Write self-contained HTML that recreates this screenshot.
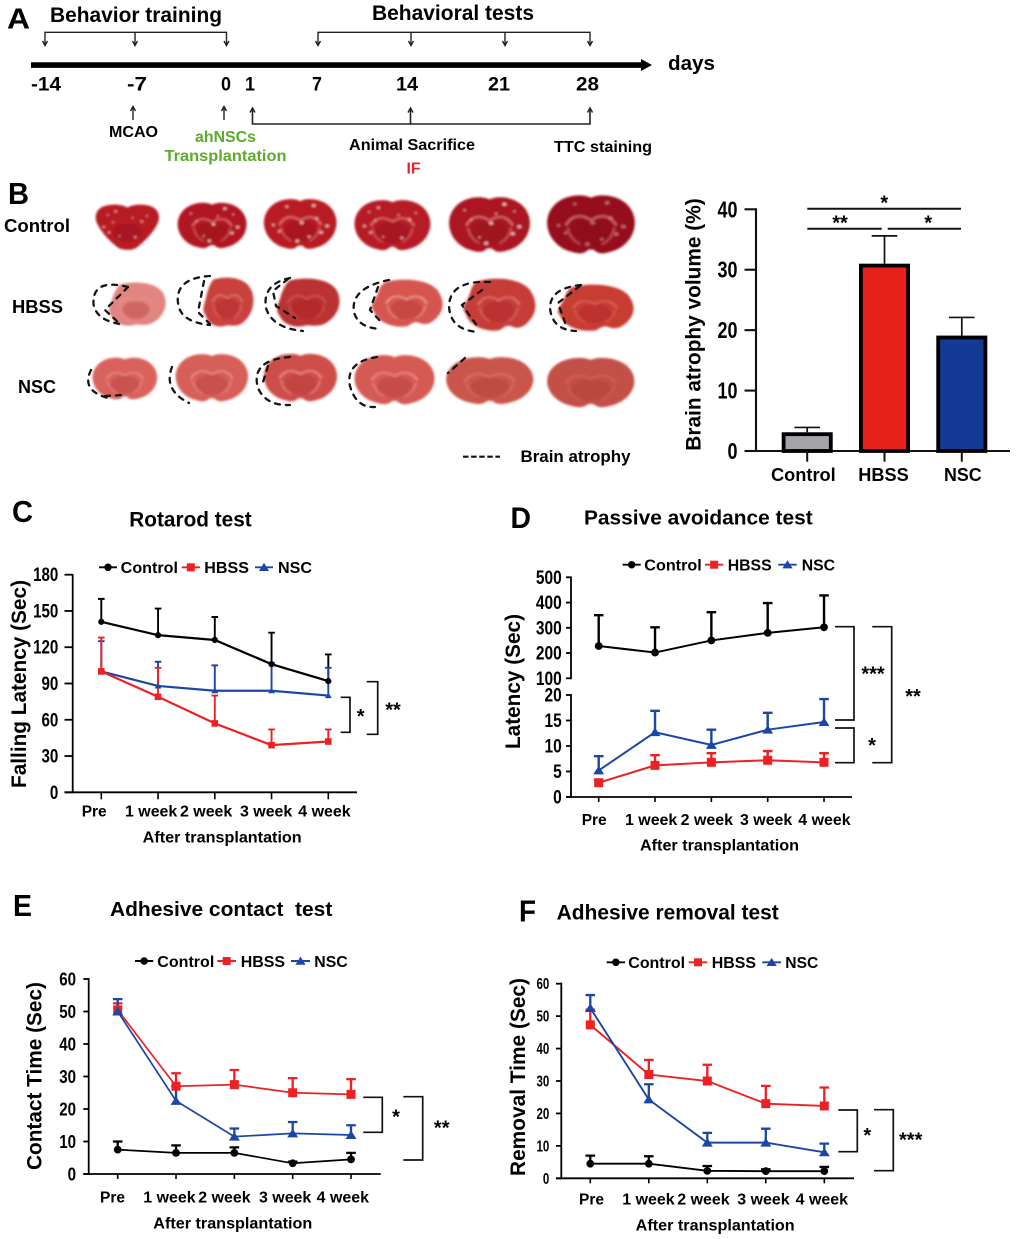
<!DOCTYPE html>
<html lang="en">
<head>
<meta charset="utf-8">
<title>Behavior and brain atrophy figure</title>
<style>
html,body{margin:0;padding:0;background:#fff;}
svg{display:block;font-family:"Liberation Sans",Arial,sans-serif;font-weight:bold;filter:blur(0.3px);}
</style>
</head>
<body>
<svg id="figure" xmlns="http://www.w3.org/2000/svg" width="1020" height="1239" viewBox="0 0 1020 1239">
<defs>
<filter id="soft" x="-10%" y="-10%" width="120%" height="120%"><feGaussianBlur stdDeviation="1"/></filter>
</defs>
<rect width="1020" height="1239" fill="#fff"/>

<g id="panel-a">
<text x="7" y="28.3" font-size="29" textLength="23" lengthAdjust="spacingAndGlyphs">A</text>
<text x="50" y="22" font-size="21" textLength="172" lengthAdjust="spacingAndGlyphs">Behavior training</text>
<text x="372" y="20" font-size="21" textLength="162" lengthAdjust="spacingAndGlyphs">Behavioral tests</text>
<g fill="none" stroke="#222" stroke-width="1.4">
<path d="M45 45V32.3H226.5V45M135 32.3V45"/>
<path d="M318 45V32.3H590V45M411 32.3V45M505 32.3V45"/>
<path d="M42.5 41L45 45.5L47.5 41M132.5 41L135 45.5L137.5 41M224 41L226.5 45.5L229 41"/>
<path d="M315.5 41L318 45.5L320.5 41M408.5 41L411 45.5L413.5 41M502.5 41L505 45.5L507.5 41M587.5 41L590 45.5L592.5 41"/>
<path d="M133 120V107M130.5 111L133 106.5L135.5 111"/>
<path d="M224 120V107M221.5 111L224 106.5L226.5 111"/>
<path stroke-width="1.6" d="M252.5 109V124H590V109M410.5 124V109"/>
<path d="M250 112.5L252.5 108L255 112.5M408 112.5L410.5 108L413 112.5M587.5 112.5L590 108L592.5 112.5"/>
</g>
<path d="M31 62.3H641V59L652 65L641 71V67.9H31Z" fill="#000"/>
<text x="668" y="70" font-size="20.6" textLength="47" lengthAdjust="spacingAndGlyphs">days</text>
<g font-size="19">
<text x="31" y="90.5" textLength="30" lengthAdjust="spacingAndGlyphs">-14</text>
<text x="127" y="90.5" textLength="20" lengthAdjust="spacingAndGlyphs">-7</text>
<text x="221" y="90.5" textLength="10" lengthAdjust="spacingAndGlyphs">0</text>
<text x="245" y="90.5" textLength="10" lengthAdjust="spacingAndGlyphs">1</text>
<text x="312" y="90.5" textLength="10" lengthAdjust="spacingAndGlyphs">7</text>
<text x="396" y="90.5" textLength="22" lengthAdjust="spacingAndGlyphs">14</text>
<text x="488" y="90.5" textLength="22" lengthAdjust="spacingAndGlyphs">21</text>
<text x="576" y="90.5" textLength="23" lengthAdjust="spacingAndGlyphs">28</text>
</g>
<g font-size="16">
<text x="109" y="137" textLength="49" lengthAdjust="spacingAndGlyphs">MCAO</text>
<text x="195" y="142" fill="#5cab2a" textLength="61" lengthAdjust="spacingAndGlyphs">ahNSCs</text>
<text x="164.5" y="161" fill="#5cab2a" textLength="122" lengthAdjust="spacingAndGlyphs">Transplantation</text>
<text x="349" y="150" textLength="126" lengthAdjust="spacingAndGlyphs">Animal Sacrifice</text>
<text x="406.5" y="173.5" fill="#e8202a" textLength="14" lengthAdjust="spacingAndGlyphs">IF</text>
<text x="554" y="152" textLength="98" lengthAdjust="spacingAndGlyphs">TTC staining</text>
</g>
</g>

<g id="panel-b">
<text x="8" y="204" font-size="31" textLength="21" lengthAdjust="spacingAndGlyphs">B</text>
<text x="4" y="232" font-size="18.5" textLength="66" lengthAdjust="spacingAndGlyphs">Control</text>
<text x="12" y="313" font-size="18.5" textLength="51" lengthAdjust="spacingAndGlyphs">HBSS</text>
<text x="18" y="393" font-size="18.5" textLength="38" lengthAdjust="spacingAndGlyphs">NSC</text>
<g id="brains"></g>
<g fill="none" stroke="#151515" stroke-width="2.3" stroke-linecap="round" stroke-dasharray="5 6">
<path d="M128 287Q92 278 93.500 304Q96 320 120 324M128 287L105 310L120 324"/>
<path d="M210 276Q175 278 178 303Q180 322 210 325M204 281L198 312L210 324"/>
<path d="M290 278Q262 284 266 308Q272 328 303 331M288 279L273 291L276 306L295 318"/>
<path d="M389 280Q350 288 354 312Q358 328 381 329M378 287L370 310L382 323"/>
<path d="M490 282Q450 280 449 306Q450 330 478 332M482 290L462 305L478 327"/>
<path d="M581 285Q550 288 550 308Q552 330 576 331M580 286L558 303L566 325"/>
<path d="M91 370Q80 392 112 399M105 396L122 395"/>
<path d="M172 367Q163 390 189 403"/>
<path d="M290 357Q250 360 258 388Q266 406 290 405M268 366L263 382"/>
<path d="M377 357Q345 362 350 386Q356 408 375 407"/>
<path d="M465 358L448 373"/>
</g>
<line x1="463" y1="456.7" x2="500" y2="456.7" stroke="#111" stroke-width="2.2" stroke-dasharray="5.5 2.6"/>
<text x="520.5" y="462" font-size="16.2" textLength="110" lengthAdjust="spacingAndGlyphs">Brain atrophy</text>
</g>

<text x="12" y="522" font-size="31" textLength="21" lengthAdjust="spacingAndGlyphs">C</text>
<text x="129.3" y="526.7" font-size="20.8" textLength="122.4" lengthAdjust="spacingAndGlyphs">Rotarod test</text>
<text x="510.5" y="528" font-size="30" textLength="20.5" lengthAdjust="spacingAndGlyphs">D</text>
<text x="584" y="524.3" font-size="20.4" textLength="228.7" lengthAdjust="spacingAndGlyphs">Passive avoidance test</text>
<text x="13" y="916" font-size="31" textLength="19" lengthAdjust="spacingAndGlyphs">E</text>
<text x="110" y="916" font-size="20.4" textLength="222.3" lengthAdjust="spacingAndGlyphs" xml:space="preserve">Adhesive contact  test</text>
<text x="519" y="921.7" font-size="31" textLength="17" lengthAdjust="spacingAndGlyphs">F</text>
<text x="556.7" y="919.3" font-size="20.8" textLength="222" lengthAdjust="spacingAndGlyphs">Adhesive removal test</text>

<g id="charts"></g>
</svg>

<script>
// ---- chart data ----
const groupLabels = ['Control', 'HBSS', 'NSC'];
const weekLabels = ['Pre', '1 week', '2 week', '3 week', '4 week'];

const atrophyValues = [3.1, 31, 19.1];
const atrophyTops = [3.9, 35.6, 22.1];
const atrophyTicks = [0, 10, 20, 30, 40];

const rotarodTicks = [0, 30, 60, 90, 120, 150, 180];
const rotarodControl = [141, 130, 126, 106, 92];
const rotarodControlTop = [160, 152, 145, 132, 114];
const rotarodHbss = [100, 79, 57, 39, 42];
const rotarodHbssTop = [128, 103, 80, 52, 52];
const rotarodNsc = [100, 88, 84, 84, 80];
const rotarodNscTop = [125, 108, 105, 107, 103];

const passiveTicks = [0, 5, 10, 15, 20, 100, 200, 300, 400, 500];
const passiveControl = [228, 202, 250, 280, 302];
const passiveControlTop = [350, 302, 362, 398, 428];
const passiveHbss = [2.8, 6.2, 6.8, 7.2, 6.8];
const passiveHbssTop = [3.4, 8.2, 8.6, 9, 8.6];
const passiveNsc = [5.2, 12.7, 10.2, 13.2, 14.7];
const passiveNscTop = [8, 16.9, 13.2, 16.5, 19.2];

const contactTicks = [0, 10, 20, 30, 40, 50, 60];
const contactControl = [7.5, 6.5, 6.5, 3.3, 4.5];
const contactControlTop = [10, 8.8, 8.2, 3.8, 6.5];
const contactHbss = [50.5, 27, 27.5, 25, 24.5];
const contactHbssTop = [52.5, 31, 32, 29.5, 29.2];
const contactNsc = [50, 22.5, 11.5, 12.5, 12];
const contactNscTop = [53.8, 27, 14, 16, 15];

const removalTicks = [0, 10, 20, 30, 40, 50, 60];
const removalControl = [4.5, 4.5, 2.3, 2.2, 2.2];
const removalControlTop = [7, 6.8, 3.8, 2.8, 3.5];
const removalHbss = [47.3, 32, 30, 23, 22.3];
const removalHbssTop = [52, 36.5, 35, 28.5, 28];
const removalNsc = [52.5, 24.3, 11, 11, 8];
const removalNscTop = [56.5, 29, 14, 15.3, 10.7];

// ---- helpers ----
const NS = 'http://www.w3.org/2000/svg';
const root = document.getElementById('charts');
const COLORS = { Control: '#000000', HBSS: '#ee2024', NSC: '#1c46a5' };

function add(tag, attrs, parent) {
  const el = document.createElementNS(NS, tag);
  for (const k in attrs) el.setAttribute(k, attrs[k]);
  parent.appendChild(el);
  return el;
}
function txt(parent, s, x, y, size, o) {
  o = o || {};
  const el = add('text', { x: x, y: y, 'font-size': size }, parent);
  el.textContent = s;
  if (o.width) { el.setAttribute('textLength', o.width); el.setAttribute('lengthAdjust', 'spacingAndGlyphs'); }
  if (o.anchor) el.setAttribute('text-anchor', o.anchor);
  if (o.rotate) el.setAttribute('transform', 'rotate(-90 ' + x + ' ' + y + ')');
  if (o.fill) el.setAttribute('fill', o.fill);
  return el;
}
function linear(d0, d1, r0, r1) {
  return function (v) { return r0 + (v - d0) * (r1 - r0) / (d1 - d0); };
}
function marker(parent, kind, x, y, s, color) {
  if (kind === 'Control') return add('circle', { cx: x, cy: y, r: s / 2, fill: color }, parent);
  if (kind === 'HBSS') return add('rect', { x: x - s / 2, y: y - s / 2, width: s, height: s, fill: color }, parent);
  return add('path', { d: 'M' + (x - s * 0.58) + ' ' + (y + s * 0.42) + 'L' + x + ' ' + (y - s * 0.5) + 'L' + (x + s * 0.58) + ' ' + (y + s * 0.42) + 'Z', fill: color }, parent);
}
function drawStar(g, slug, s, x, cy) {
  const star = txt(g, s, x, cy + 11.4, 20, { anchor: 'middle' });
  
  
}
function drawBracket(g, slug, b) {
  const br = add('path', { d: 'M' + b[0] + ' ' + b[2] + 'H' + b[1] + 'V' + b[3] + 'H' + b[0], fill: 'none', stroke: '#111', 'stroke-width': 1.7 }, g);
  
  
}

// ---- line charts ----
function drawLineChart(c) {
  const g = add('g', {}, root);
  
  
  const x = function (i) { return c.x0 + i * c.dx; };
  const y = c.y;

  c.axisSegments.forEach(function (seg) {
    const yAxis = add('line', { x1: c.axisX, x2: c.axisX, y1: seg[0] - 0.9, y2: seg[1] + 0.9, stroke: '#000', 'stroke-width': 1.8 }, g);
    
    
  });
  const xAxis = add('line', { x1: c.xAxis[0], x2: c.xAxis[1], y1: y(0), y2: y(0), stroke: '#000', 'stroke-width': 1.8 }, g);
  
  

  c.ticks.forEach(function (t) {
    const tick = add('line', { x1: c.xAxis[0], x2: c.axisX, y1: y(t), y2: y(t), stroke: '#000', 'stroke-width': 1.8 }, g);
    
    
    const s = String(t);
    const lab = txt(g, s, c.tickRight, y(t) + c.tickDy, c.tickSize, { anchor: 'end', width: c.digitW * s.length });
    
    
  });

  weekLabels.forEach(function (w, i) {
    const tick = add('line', { x1: x(i), x2: x(i), y1: y(0), y2: y(0) + c.xTickLen, stroke: '#000', 'stroke-width': 1.6 }, g);
    
    
    const lab = txt(g, w, c.labelLeft[i], c.labelBase, 15.8, { width: i === 0 ? 25 : 52.3 });
    
    
  });

  const xTitle = txt(g, 'After transplantation', c.xTitle[0], c.xTitle[1], 16, { width: 159 });
  
  

  const yTitle = txt(g, c.yTitle, c.yTitlePos[0], c.yTitlePos[1], 20.8, { rotate: true, width: c.yTitlePos[2] });
  
  

  // error bars first, so the series lines and markers sit on top
  c.series.forEach(function (s) {
    s.top.forEach(function (t, i) {
      const err = add('path', {
        d: 'M' + x(i) + ' ' + y(s.values[i]) + 'V' + y(t) + 'M' + (x(i) - c.cap) + ' ' + y(t) + 'H' + (x(i) + c.cap),
        fill: 'none', stroke: COLORS[s.key], 'stroke-width': c.errW
      }, g);
      
      
    });
  });
  c.series.forEach(function (s) {
    const pts = s.values.map(function (v, i) { return x(i) + ',' + y(v); }).join(' ');
    const line = add('polyline', { points: pts, fill: 'none', stroke: COLORS[s.key], 'stroke-width': c.lineW }, g);
    
    
    s.values.forEach(function (v, i) {
      const m = marker(g, s.key, x(i), y(v), s.key === 'Control' ? c.circleD : (s.key === 'HBSS' ? c.squareS : c.triS), COLORS[s.key]);
      
      
    });
  });

  // legend
  groupLabels.forEach(function (name, i) {
    const p = c.legend[i];
    const entry = add('g', {}, g);
    
    
    add('line', { x1: p[0], x2: p[1], y1: c.legendY, y2: c.legendY, stroke: COLORS[name], 'stroke-width': 1.9 }, entry);
    marker(entry, name, (p[0] + p[1]) / 2, c.legendY, name === 'Control' ? 7.5 : (name === 'HBSS' ? 8 : 8.8), COLORS[name]);
    txt(entry, name, p[2], c.legendY + 5.8, 16, { width: p[3] - p[2] });
  });

  c.brackets.forEach(function (b) { drawBracket(g, c.slug, b); });
  c.stars.forEach(function (st) { drawStar(g, c.slug, st[0], st[1], st[2]); });
}

drawLineChart({
  slug: 'rotarod', x0: 101.3, dx: 56.75, axisX: 72.7, xAxis: [64.5, 357], xTickLen: 7,
  axisSegments: [[575, 792.3]], y: linear(0, 180, 792.3, 574.7), ticks: rotarodTicks,
  tickRight: 58.3, tickDy: 6.5, tickSize: 19.6, digitW: 8.4,
  labelLeft: [81.7, 125, 180, 240, 298.3], labelBase: 816.7, xTitle: [142.7, 842.7],
  yTitle: 'Falling Latency (Sec)', yTitlePos: [26, 788, 208],
  cap: 3.3, errW: 1.9, lineW: 2.2, circleD: 6.2, squareS: 6.6, triS: 6,
  legendY: 567.3, legend: [[99, 117, 120.7, 178], [181.7, 200, 204.3, 249], [255, 273, 278, 312]],
  brackets: [[340.7, 350, 697.3, 732.3], [366.7, 377.7, 681.7, 734.3]],
  stars: [['*', 360.7, 711.7], ['**', 393, 705]],
  series: [
    { key: 'Control', values: rotarodControl, top: rotarodControlTop },
    { key: 'NSC', values: rotarodNsc, top: rotarodNscTop },
    { key: 'HBSS', values: rotarodHbss, top: rotarodHbssTop }
  ]
});

const passiveUpper = linear(100, 500, 678.3, 577.3);
const passiveLower = linear(0, 20, 797, 695);
drawLineChart({
  slug: 'passive', x0: 598.7, dx: 56.33, axisX: 571, xAxis: [566, 852], xTickLen: 5,
  axisSegments: [[577.3, 678.3], [695, 797]],
  y: function (v) { return v > 20 ? passiveUpper(v) : passiveLower(v); }, ticks: passiveTicks,
  tickRight: 561.7, tickDy: 6.5, tickSize: 19.2, digitW: 8.6,
  labelLeft: [581.7, 625, 680.7, 740, 798.3], labelBase: 825, xTitle: [640, 850.7],
  yTitle: 'Latency (Sec)', yTitlePos: [520, 749, 135],
  cap: 4.8, errW: 2.4, lineW: 2, circleD: 7.8, squareS: 9, triS: 9.4,
  legendY: 564.7, legend: [[622.7, 640.7, 644.3, 701.7], [705, 723.3, 727.7, 771.7], [778.3, 796.7, 801.7, 835]],
  brackets: [[835, 854, 626.7, 720], [835, 854, 728, 762.7], [872.3, 891.7, 626.7, 762.7]],
  stars: [['***', 873, 669], ['*', 872, 740.7], ['**', 913, 691.7]],
  series: [
    { key: 'Control', values: passiveControl, top: passiveControlTop },
    { key: 'NSC', values: passiveNsc, top: passiveNscTop },
    { key: 'HBSS', values: passiveHbss, top: passiveHbssTop }
  ]
});

drawLineChart({
  slug: 'contact', x0: 117.7, dx: 58.33, axisX: 88.7, xAxis: [83.3, 380.7], xTickLen: 5,
  axisSegments: [[979, 1174]], y: linear(0, 60, 1174, 979), ticks: contactTicks,
  tickRight: 76, tickDy: 6.3, tickSize: 18, digitW: 8.4,
  labelLeft: [100, 143.3, 198.3, 259, 316.7], labelBase: 1202.3, xTitle: [153.3, 1228.3],
  yTitle: 'Contact Time (Sec)', yTitlePos: [41.7, 1170, 188],
  cap: 4.8, errW: 2.3, lineW: 1.7, circleD: 7.8, squareS: 9, triS: 9.4,
  legendY: 961, legend: [[135, 153.3, 157.3, 214.3], [217.3, 236, 240.7, 285], [291, 310, 314.3, 347.7]],
  brackets: [[363.3, 382.3, 1097.3, 1132.3], [403.3, 422.7, 1096.7, 1160]],
  stars: [['*', 396, 1112.3], ['**', 441.7, 1123.3]],
  series: [
    { key: 'Control', values: contactControl, top: contactControlTop },
    { key: 'HBSS', values: contactHbss, top: contactHbssTop },
    { key: 'NSC', values: contactNsc, top: contactNscTop }
  ]
});

drawLineChart({
  slug: 'removal', x0: 590.3, dx: 58.5, axisX: 561.3, xAxis: [556, 854], xTickLen: 5,
  axisSegments: [[983.7, 1178.3]], y: linear(0, 60, 1178.3, 983.7), ticks: removalTicks,
  tickRight: 549.3, tickDy: 5.5, tickSize: 15.5, digitW: 6.4,
  labelLeft: [579, 622.3, 677.3, 737.3, 795.7], labelBase: 1204.3, xTitle: [635.7, 1230.7],
  yTitle: 'Removal Time (Sec)', yTitlePos: [525, 1176, 198],
  cap: 4.8, errW: 2.3, lineW: 1.9, circleD: 7.8, squareS: 9, triS: 9.4,
  legendY: 962.3, legend: [[606.7, 625, 628.3, 685], [688.7, 707.3, 711.7, 756], [762.3, 781, 785.3, 818.3]],
  brackets: [[838.3, 857.3, 1110, 1151.7], [874, 893.3, 1109.7, 1170.7]],
  stars: [['*', 867.3, 1130.7], ['***', 910.7, 1135.3]],
  series: [
    { key: 'Control', values: removalControl, top: removalControlTop },
    { key: 'HBSS', values: removalHbss, top: removalHbssTop },
    { key: 'NSC', values: removalNsc, top: removalNscTop }
  ]
});

// ---- bar chart (brain atrophy) ----
(function drawBarChart() {
  const g = add('g', {}, root);
  
  
  const fills = ['#a3a3a8', '#e8211b', '#133a94'];
  const y = linear(0, 40, 451, 209.3);
  const x = function (i) { return 807.2 + i * 77.3; };
  const barW = 51, border = 3.8;

  const yAxis = add('line', { x1: 756, x2: 756, y1: y(40) - 1, y2: y(0) + 1, stroke: '#111', 'stroke-width': 2.1 }, g);
  
  
  const xAxis = add('line', { x1: 745, x2: 1010, y1: y(0), y2: y(0), stroke: '#111', 'stroke-width': 2.1 }, g);
  
  

  atrophyTicks.forEach(function (t) {
    const tick = add('line', { x1: 744.5, x2: 756, y1: y(t), y2: y(t), stroke: '#111', 'stroke-width': 2.1 }, g);
    
    
    const s = String(t);
    const lab = txt(g, s, 737.5, y(t) + 8, 23, { anchor: 'end', width: 10 * s.length });
    
    
  });

  const labelLefts = [771, 858.3, 944];
  const labelWidths = [64.7, 50.4, 37.7];
  groupLabels.forEach(function (name, i) {
    const topY = y(atrophyValues[i]);
    const err = add('path', {
      d: 'M' + x(i) + ' ' + topY + 'V' + y(atrophyTops[i]) + 'M' + (x(i) - 12.8) + ' ' + y(atrophyTops[i]) + 'H' + (x(i) + 12.8),
      fill: 'none', stroke: '#111', 'stroke-width': 1.7
    }, g);
    
    

    const bar = add('rect', {
      x: x(i) - barW / 2 + border / 2, y: topY + border / 2,
      width: barW - border, height: y(0) - topY - border / 2,
      fill: fills[i], stroke: '#000', 'stroke-width': border
    }, g);
    
    

    const tick = add('line', { x1: x(i), x2: x(i), y1: y(0), y2: y(0) + 10.7, stroke: '#111', 'stroke-width': 2 }, g);
    
    

    const lab = txt(g, name, labelLefts[i], 481, 18, { width: labelWidths[i] });
    
    
  });

  const yTitle = txt(g, 'Brain atrophy volume (%)', 700.7, 450.7, 21, { rotate: true, width: 252.4 });
  
  

  const sig = add('path', { d: 'M807.3 208.7H961M807.3 228.7H881.7M887.7 228.7H961', fill: 'none', stroke: '#111', 'stroke-width': 2 }, g);
  
  
  drawStar(g, 'atrophy', '*', 884.3, 198);
  drawStar(g, 'atrophy', '**', 840, 218.3);
  drawStar(g, 'atrophy', '*', 928.3, 218.3);
})();

// ---- stained brain sections (photo stand-ins) ----
(function drawBrains() {
  const holder = document.getElementById('brains');
  const HEART = 'M50 8C44 2 30 -1 16 4C3 9 -1 25 3 40C8 58 22 80 36 95C42 100 56 102 64 95C78 80 92 58 97 40C101 25 97 9 84 4C70 -1 56 2 50 8Z';
  const DOME = 'M50 6C42 0 24 0 12 14C2 26 -1 44 3 60C6 74 16 88 28 92C36 96 42 96 46 90C48 88 52 88 54 90C58 96 64 96 72 92C84 88 94 74 97 60C101 44 98 26 88 14C76 0 58 0 50 6Z';
  const CUT = 'M25 5C45 -2 85 -2 95 28C102 50 96 75 78 90C66 100 52 92 45 96C30 100 15 92 10 75C2 62 10 50 12 35C15 25 18 12 25 5Z';
  const CUTLOBED = 'M22 6C40 -2 78 -2 92 22C102 42 102 62 92 78C86 88 78 96 68 90C62 86 58 90 52 96C42 100 24 96 14 84C6 74 6 66 2 58C4 46 10 36 12 24C14 16 16 10 22 6Z';
  const rows = [
    { slug: 'control', y: [[204, 250], [201.7, 250.7], [198, 251.7], [199, 253], [196, 255], [194, 256.7]],
      x: [[94.7, 160], [176.8, 247.5], [263, 337.5], [353.5, 431.4], [448, 531], [546, 636]],
      paths: [HEART, DOME, DOME, DOME, DOME, DOME],
      base: ['#b71b24', '#b21923', '#b81a24', '#b71a25', '#ab1622', '#96101c'], vein: '#ee9a9c', dark: '#840b16', veinOp: [0.05, 0.55, 0.6, 0.55, 0.6, 0.55] },
    { slug: 'hbss', y: [[282, 327], [277, 328], [278, 328], [279, 328], [278, 332], [284, 332]],
      x: [[105, 167], [200, 254.6], [272.7, 341], [370, 443], [461.7, 535.8], [556, 634]],
      paths: [CUT, CUT, CUT, CUTLOBED, CUTLOBED, CUTLOBED],
      base: ['#e28480', '#c9403d', '#bb3030', '#d6564f', '#c63c38', '#c83c32'], vein: '#f1a6a2', dark: '#a52225', veinOp: [0.35, 0.45, 0.3, 0.75, 0.45, 0.35] },
    { slug: 'nsc', y: [[356.7, 401.7], [353, 404], [352.7, 404], [354, 407], [356, 406.7], [356.7, 410]],
      x: [[91.7, 158], [174.7, 249], [263, 338], [353.5, 435.6], [445, 534.5], [546, 635.5]],
      paths: [DOME, DOME, DOME, DOME, DOME, DOME],
      base: ['#da625d', '#d65f58', '#cf4e49', '#d55a53', '#ca564c', '#c45046'], vein: '#f2aaa5', dark: '#a83230', veinOp: [0.5, 0.55, 0.6, 0.55, 0.3, 0.2] }
  ];
  const speckles = [[20, 24], [32, 16], [68, 14], [80, 26], [14, 50], [86, 52], [38, 70], [62, 72], [52, 46], [28, 40], [72, 38], [46, 80], [58, 30], [22, 62], [78, 64]];
  rows.forEach(function (row) {
    row.x.forEach(function (bx, i) {
      const by = row.y[i];
      const sx = (bx[1] - bx[0]) / 100, sy = (by[1] - by[0]) / 100;
      const wrap = add('g', { filter: 'url(#soft)' }, holder);
      
      
      const g = add('g', { transform: 'translate(' + bx[0] + ' ' + by[0] + ') scale(' + sx + ' ' + sy + ')' }, wrap);
      add('path', { d: row.paths[i], fill: row.base[i] }, g);
      add('ellipse', { cx: 50, cy: 62, rx: 22, ry: 20, fill: row.dark, opacity: 0.3 }, g);
      add('path', { d: 'M22 50C30 30 42 34 50 42C58 34 70 30 78 50', fill: 'none', stroke: row.vein, 'stroke-width': 3.4, opacity: row.veinOp[i] }, g);
      add('path', { d: 'M24 54C26 68 32 76 38 80M76 54C74 68 68 76 62 80', fill: 'none', stroke: row.vein, 'stroke-width': 3, opacity: row.veinOp[i] * 0.7 }, g);
      if (row.slug === 'control') {
        speckles.forEach(function (p, n) {
          if ((n + i) % 3 === 2) return;
          add('circle', { cx: p[0], cy: p[1], r: 1.3 + (n % 3) * 0.6, fill: '#f6d2d2', opacity: i === 5 ? 0.45 : 0.85 }, g);
        });
      }
    });
  });
})();
</script>
</body>
</html>
